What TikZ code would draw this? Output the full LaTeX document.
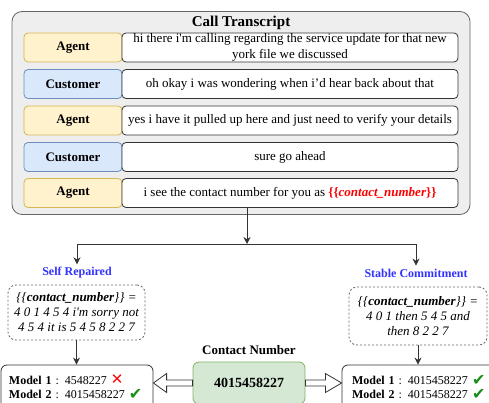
\documentclass[tikz,border=0pt]{standalone}
\usepackage{fontspec}
\setmainfont{Liberation Serif}
\newfontfamily\symfont{DejaVu Sans}
\usetikzlibrary{arrows.meta,calc}
\definecolor{agentfill}{HTML}{FFF2CC}
\definecolor{agentdraw}{HTML}{D6B656}
\definecolor{custfill}{HTML}{DAE8FC}
\definecolor{custdraw}{HTML}{6C8EBF}
\definecolor{grnfill}{HTML}{D5E8D4}
\definecolor{grndraw}{HTML}{82B366}
\definecolor{outerfill}{HTML}{EEEEEE}
\definecolor{linec}{HTML}{333333}
\definecolor{outerline}{HTML}{666666}
\definecolor{bluetxt}{HTML}{3333FF}
\definecolor{redtxt}{HTML}{FF0000}
\definecolor{okgreen}{HTML}{1A8C1A}
\newcommand\badmark{\smash{\textcolor{redtxt}{\symfont\fontsize{15}{15}\selectfont ✕}}}
\newcommand\okmark{\smash{\raisebox{-1.5pt}{\textcolor{okgreen}{\symfont\fontsize{16}{16}\selectfont ✔}}}}
\begin{document}
\begin{tikzpicture}[x=1pt,y=-1pt,
  font=\fontsize{13}{15}\selectfont,
  line/.style={draw=linec, line width=0.8pt},
  arr/.style={line, -{Stealth[length=7pt,width=7pt]}},
  rowbox/.style={rounded corners=4pt, line width=0.8pt, minimum height=29pt, inner sep=0pt, align=center},
  agentbox/.style={rowbox, fill=agentfill, draw=agentdraw, minimum width=98pt, font=\fontsize{13}{15}\selectfont\bfseries},
  custbox/.style={rowbox, fill=custfill, draw=custdraw, minimum width=98pt, font=\fontsize{13}{15}\selectfont\bfseries},
  textbox/.style={rowbox, fill=white, draw=linec, minimum width=336pt},
  outerbox/.style={draw=outerline, fill=outerfill, line width=0.8pt, rounded corners=10pt, minimum width=458pt, minimum height=203pt, inner sep=0pt},
  lab/.style={text=bluetxt, font=\fontsize{12}{14}\selectfont\bfseries, inner sep=3pt},
  dbox/.style={draw=outerline, line width=0.8pt, dash pattern=on 2pt off 2pt, rounded corners=8pt, fill=white, align=center, inner sep=0pt, font=\fontsize{13}{15}\selectfont\itshape},
  resbox/.style={draw=linec, line width=0.8pt, rounded corners=6pt, fill=white, align=left, inner ysep=0pt, minimum height=44pt, font=\fontsize{12}{14}\selectfont},
  greenbox/.style={draw=grndraw, fill=grnfill, line width=0.8pt, rounded corners=6pt, minimum width=112pt, minimum height=42pt, font=\fontsize{14}{16}\selectfont\bfseries},
  fat/.style={draw=linec, line width=0.8pt, fill=white, line join=miter}
]
\clip (0,0) rectangle (489,403);
\fill[white] (0,0) rectangle (489,403);
% transcript
\node[outerbox] (outer) at (241,113) {};
\node[font=\fontsize{15}{17}\selectfont\bfseries] (title) at (241,23) {Call Transcript};
\node[agentbox] (r1a) at (73,47.5) {Agent};
\node[textbox, font=\fontsize{13}{16}\selectfont] (r1t) at (290,47.5) {hi there i\textquotesingle m calling regarding the service update for that new\\york file we discussed};
\node[custbox] (r2a) at (73,84) {Customer};
\node[textbox] (r2t) at (290,84) {oh okay i was wondering when i’d hear back about that};
\node[agentbox] (r3a) at (73,120.5) {Agent};
\node[textbox] (r3t) at (290,120.5) {yes i have it pulled up here and just need to verify your details};
\node[custbox] (r4a) at (73,157) {Customer};
\node[textbox] (r4t) at (290,157) {sure go ahead};
\node[agentbox] (r5a) at (73,193) {Agent};
\node[textbox] (r5t) at (290,193) {i see the contact number for you as \textcolor{redtxt}{\textbf{\{\{\textit{contact\_number}\}\}}}};
% split
\coordinate (split) at (247,244);
\coordinate (lsp) at (77,244);
\coordinate (rsp) at (416,244);
\draw[arr] (r5t.south -| split) -- (split);
\draw[line] (lsp) -- (rsp);
\node[lab] (sr) at (77,273) {Self Repaired};
\node[lab] (sc) at (416,273) {Stable Commitment};
\draw[arr] (lsp) -- (sr.north);
\draw[arr] (rsp) -- (sc.north);
% dashed boxes
\node[dbox, minimum width=137pt, minimum height=55pt] (ld) at (76.5,312.5) {\{\{\textbf{contact\_number}\}\} =\\4 0 1 4 5 4 i\textquotesingle m sorry not\\4 5 4 it is 5 4 5 8 2 2 7};
\node[dbox, minimum width=138pt, minimum height=58pt] (rd) at (418,316) {\{\{\textbf{contact\_number}\}\} =\\4 0 1 then 5 4 5 and\\then 8 2 2 7};
% results
\node[resbox, text width=136pt, inner xsep=8pt] (lr) at (77,387) {\textbf{Model 1} : 4548227 \badmark\\\textbf{Model 2} : 4015458227 \okmark};
\node[resbox, text width=150pt, inner xsep=10pt] (rr) at (427,387) {\textbf{Model 1} : 4015458227 \okmark\\\textbf{Model 2} : 4015458227 \okmark};
\draw[arr] (ld.south) -- (lr.north -| ld.south);
\draw[arr] (rd.south) -- (rr.north -| rd.south);
% contact number
\node[font=\fontsize{13}{15}\selectfont\bfseries] (cnl) at (249,350) {Contact Number};
\node[greenbox] (cn) at (249,383) {4015458227};
\draw[fat] ($(cn.west)+(0,-3)$) -- ++(-26,0) -- ++(0,-6.5) -- (lr.east |- cn.west) -- ($(cn.west)+(-26,9.5)$) -- ++(0,-6.5) -- ($(cn.west)+(0,3)$) -- cycle;
\draw[fat] ($(cn.east)+(0,-3)$) -- ++(20,0) -- ++(0,-6.5) -- (rr.west |- cn.east) -- ($(cn.east)+(20,9.5)$) -- ++(0,-6.5) -- ($(cn.east)+(0,3)$) -- cycle;
\end{tikzpicture}
\end{document}
